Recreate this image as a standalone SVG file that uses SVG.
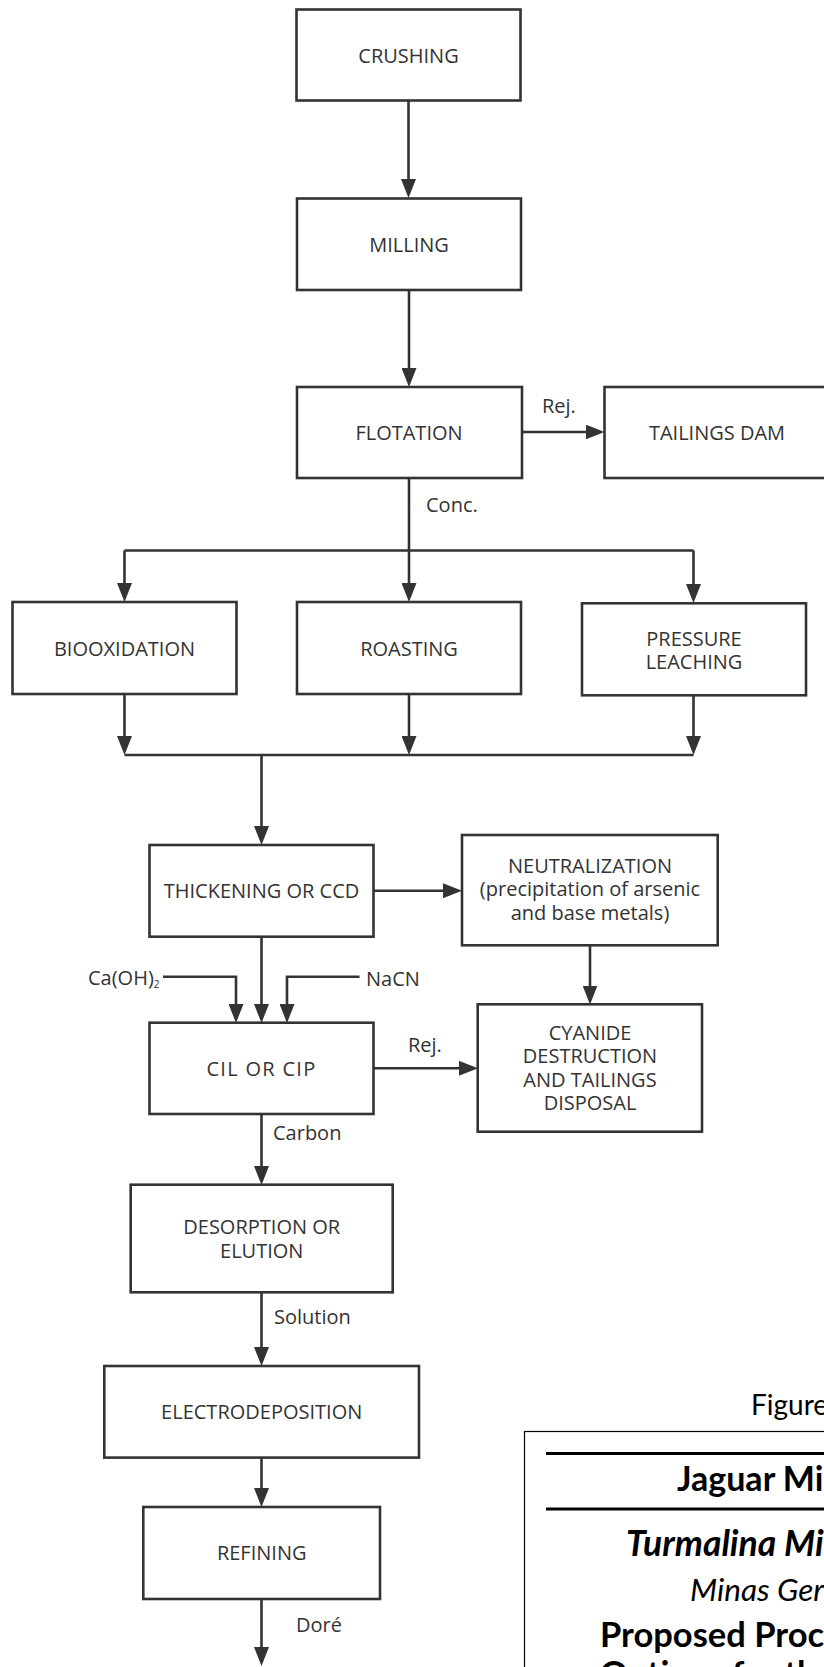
<svg xmlns="http://www.w3.org/2000/svg" width="824" height="1667" viewBox="0 0 824 1667">
<style>
.box{fill:#fff;stroke:#333;stroke-width:2.6}
.t{font-family:"Open Sans","Liberation Sans",sans-serif;font-size:20px;fill:#333;text-anchor:middle}
.lbl{font-family:"Open Sans","Liberation Sans",sans-serif;font-size:20px;fill:#333}
.ln{fill:none;stroke:#333;stroke-width:2.6}
.ar{fill:none;stroke:#333;stroke-width:2.6;marker-end:url(#ah)}
.tt{font-family:Lato,"Liberation Sans",sans-serif;fill:#000}
</style>
<defs>
<marker id="ah" viewBox="0 0 19 15" refX="15" refY="7.5" markerWidth="19" markerHeight="15" markerUnits="userSpaceOnUse" orient="auto">
<path d="M0,0 L19,7.5 L0,15 Z" fill="#333"/>
</marker>
</defs>
<rect width="824" height="1667" fill="#fff"/>

<g id="connectors">
<path class="ar" d="M408.5,101 V194"/>
<path class="ar" d="M409,290 V383"/>
<path class="ar" d="M522,432 H600.5"/>
<path class="ln" d="M409,478 V550.5 M124.5,550.5 H693.5"/>
<path class="ar" d="M124.5,550.5 V598"/>
<path class="ar" d="M409,550.5 V598"/>
<path class="ar" d="M693.5,550.5 V599"/>
<path class="ar" d="M124.5,694 V751"/>
<path class="ar" d="M409,694 V751"/>
<path class="ar" d="M693.5,695 V751"/>
<path class="ln" d="M124.5,755 H693.5"/>
<path class="ar" d="M261.5,755 V841"/>
<path class="ar" d="M373,890.7 H458"/>
<path class="ar" d="M261.5,937 V1019"/>
<path class="ar" d="M163,976.7 H236 V1019"/>
<path class="ar" d="M359.5,976.7 H287 V1019"/>
<path class="ar" d="M590,945 V1000.5"/>
<path class="ar" d="M373,1068.3 H474"/>
<path class="ar" d="M261.5,1114 V1181"/>
<path class="ar" d="M261.5,1292 V1362"/>
<path class="ar" d="M261.5,1458 V1503"/>
<path class="ar" d="M261.5,1599 V1662"/>
<text class="lbl" x="542" y="413">Rej.</text>
<text class="lbl" x="426" y="512">Conc.</text>
<text class="lbl" x="88" y="985">Ca(OH)<tspan font-size="10" dy="3">2</tspan></text>
<text class="lbl" x="366" y="986">NaCN</text>
<text class="lbl" x="408" y="1052">Rej.</text>
<text class="lbl" x="273" y="1140">Carbon</text>
<text class="lbl" x="274" y="1324">Solution</text>
<text class="lbl" x="296" y="1632" font-size="18">Doré</text>
</g>

<g id="crushing"><rect class="box" x="296.5" y="9.5" width="224" height="91"/><text class="t" x="408.5" y="63">CRUSHING</text></g>
<g id="milling"><rect class="box" x="297" y="198.5" width="224" height="91.5"/><text class="t" x="409" y="252">MILLING</text></g>
<g id="flotation"><rect class="box" x="297" y="387" width="225" height="91"/><text class="t" x="409" y="440">FLOTATION</text></g>
<g id="tailings-dam"><rect class="box" x="604.5" y="387" width="226" height="91"/><text class="t" x="717" y="440">TAILINGS DAM</text></g>
<g id="biooxidation"><rect class="box" x="12.5" y="602" width="224" height="92"/><text class="t" x="124.5" y="656">BIOOXIDATION</text></g>
<g id="roasting"><rect class="box" x="297" y="602" width="224" height="92"/><text class="t" x="409" y="656">ROASTING</text></g>
<g id="pressure-leaching"><rect class="box" x="582" y="603.3" width="224" height="92"/><text class="t" x="694" y="646">PRESSURE</text><text class="t" x="694" y="669">LEACHING</text></g>
<g id="thickening"><rect class="box" x="149.5" y="845" width="224" height="91.7"/><text class="t" x="261.5" y="898">THICKENING OR CCD</text></g>
<g id="neutralization"><rect class="box" x="462" y="835" width="255.7" height="110.3"/><text class="t" x="590" y="873">NEUTRALIZATION</text><text class="t" x="590" y="896">(precipitation of arsenic</text><text class="t" x="590" y="919.5">and base metals)</text></g>
<g id="cil-cip"><rect class="box" x="149.5" y="1022.7" width="224" height="91.3"/><text class="t" x="261.5" y="1076" letter-spacing="1.3">CIL OR CIP</text></g>
<g id="cyanide-destruction"><rect class="box" x="477.7" y="1004.3" width="224.3" height="127.4"/><text class="t" x="590" y="1040">CYANIDE</text><text class="t" x="590" y="1063.3">DESTRUCTION</text><text class="t" x="590" y="1086.7">AND TAILINGS</text><text class="t" x="590" y="1110">DISPOSAL</text></g>
<g id="desorption"><rect class="box" x="130.7" y="1184.7" width="262" height="107.6"/><text class="t" x="261.7" y="1234">DESORPTION OR</text><text class="t" x="261.7" y="1257.6">ELUTION</text></g>
<g id="electrodeposition"><rect class="box" x="104.3" y="1366" width="314.7" height="91.6"/><text class="t" x="261.7" y="1419">ELECTRODEPOSITION</text></g>
<g id="refining"><rect class="box" x="143.3" y="1507" width="236.7" height="92"/><text class="t" x="261.7" y="1560">REFINING</text></g>

<g id="title-block">
<text class="tt" x="751" y="1415" font-size="28">Figure</text>
<rect x="524.5" y="1431.5" width="400" height="300" fill="none" stroke="#000" stroke-width="1.2"/>
<line x1="546" y1="1453.5" x2="824" y2="1453.5" stroke="#000" stroke-width="3"/>
<line x1="546" y1="1509" x2="824" y2="1509" stroke="#000" stroke-width="3"/>
<text class="tt" x="677" y="1491" font-size="34" font-weight="bold">Jaguar Mi</text>
<text class="tt" x="626" y="1556" font-size="35.5" font-weight="bold" font-style="italic">Turmalina Mi</text>
<text class="tt" x="690" y="1601" font-size="31.5" font-style="italic">Minas Ger</text>
<text class="tt" x="600" y="1647" font-size="34.5" font-weight="bold">Proposed Proc</text>
<text class="tt" x="600" y="1686" font-size="34.5" font-weight="bold">Options for th</text>
</g>
</svg>
